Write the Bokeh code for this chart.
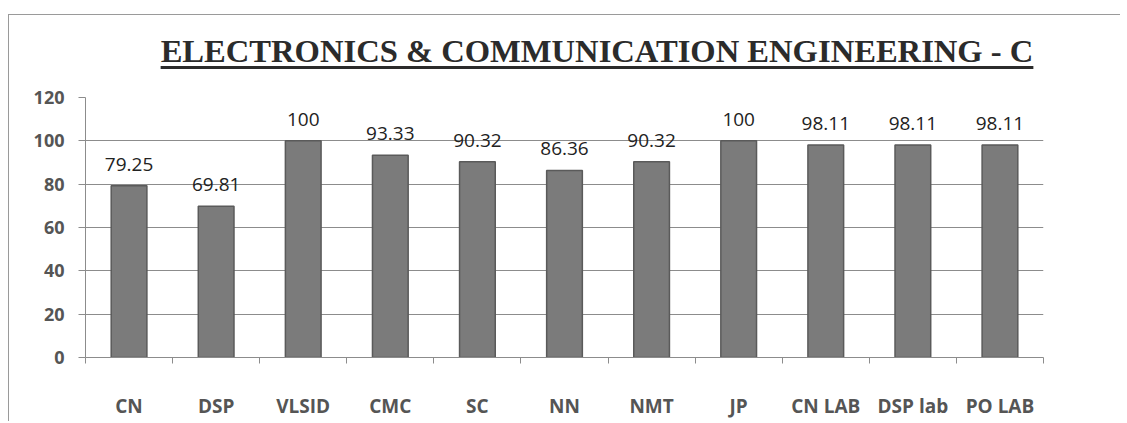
import numpy as np
from bokeh.plotting import figure
from bokeh.layouts import column
from bokeh.models import ColumnDataSource, LabelSet, FixedTicker, Range1d, Div
from bokeh.core.properties import value
from bokeh.embed import file_html
from bokeh.resources import INLINE

categories = ["CN", "DSP", "VLSID", "CMC", "SC", "NN", "NMT", "JP", "CN LAB", "DSP lab", "PO LAB"]
values = [79.25, 69.81, 100, 93.33, 90.32, 86.36, 90.32, 100, 98.11, 98.11, 98.11]
labels = ["79.25", "69.81", "100", "93.33", "90.32", "86.36", "90.32", "100", "98.11", "98.11", "98.11"]
y_ticks = [0, 20, 40, 60, 80, 100, 120]
title_text = "ELECTRONICS &amp; COMMUNICATION ENGINEERING - C"

n = len(categories)
xpos = np.arange(n) + 0.5  # category slots on a linear scale
src = ColumnDataSource(dict(x=xpos, val=values, lab=labels))

title = Div(
    text=('<div style="height:14px;"></div>'
          '<div style="margin-top:21px; width:1120px; padding-left:74px; box-sizing:border-box; text-align:center; '
          'font-family:\'Liberation Serif\'; font-weight:bold; font-size:32.6px; line-height:32px; color:#2b2b2b; '
          'text-decoration:underline; text-decoration-thickness:3px; text-underline-offset:4px; white-space:nowrap;">'
          + title_text + '</div>'),
    width=1120, height=78, styles={"margin": "0", "padding": "0"})

p = figure(width=1119, height=343, x_range=Range1d(0, n), y_range=Range1d(0, 120),
           output_backend="svg", toolbar_location=None,
           min_border_left=85, min_border_right=76, min_border_top=19, min_border_bottom=63)
p.outline_line_color = None
p.background_fill_color = "white"
p.border_fill_color = None

p.vbar(x="x", top="val", width=0.41, source=src, fill_color="#7b7b7b", line_color="#5a5a5a", line_width=1.5)

p.add_layout(LabelSet(x="x", y="val", text="lab", source=src, text_align="center", text_baseline="bottom",
                      y_offset=15, text_font=value("Open Sans"), text_font_size="19px", text_color="#222222"))

p.yaxis.ticker = FixedTicker(ticks=y_ticks)
p.ygrid.ticker = FixedTicker(ticks=y_ticks)
p.ygrid.grid_line_color = "#8c8c8c"
p.xgrid.grid_line_color = None
p.xaxis.ticker = FixedTicker(ticks=list(xpos), minor_ticks=list(range(n + 1)))
p.xaxis.major_label_overrides = {float(x): c for x, c in zip(xpos, categories)}
for ax in (p.xaxis, p.yaxis):
    ax.axis_line_color = "#8c8c8c"
    ax.major_tick_line_color = "#8c8c8c"
    ax.major_label_text_font = "Open Sans"
    ax.major_label_text_font_style = "bold"
    ax.major_label_text_color = "#555555"
    ax.major_label_text_font_size = "18px"
p.yaxis.minor_tick_line_color = None
p.yaxis.major_tick_out = 7
p.yaxis.major_tick_in = 0
p.yaxis.major_label_standoff = 14
p.xaxis.major_tick_out = 0
p.xaxis.major_tick_in = 0
p.xaxis.minor_tick_line_color = "#8c8c8c"
p.xaxis.minor_tick_out = 6
p.xaxis.minor_tick_in = 0
p.xaxis.major_label_standoff = 29
p.xaxis.major_label_text_font_size = "19px"

page = column(title, p, spacing=0, styles={
    "background-image": "linear-gradient(#9a9a9a,#9a9a9a), linear-gradient(#9a9a9a,#9a9a9a)",
    "background-size": "1px 407px, 1119px 1px",
    "background-position": "8px 14px, 8px 14px",
    "background-repeat": "no-repeat",
})

open("out.html", "w").write(file_html(page, INLINE))
